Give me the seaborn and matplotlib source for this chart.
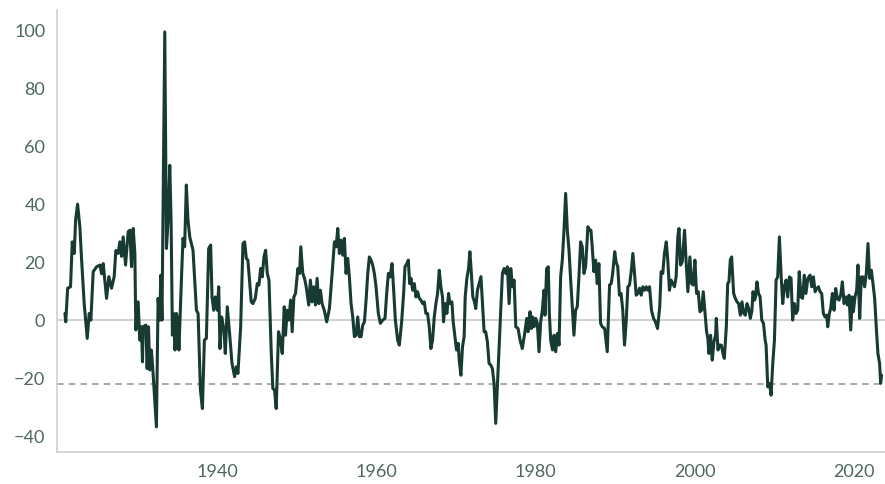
import numpy as np
import pandas as pd
import matplotlib
matplotlib.use("Agg")
import matplotlib.pyplot as plt
import seaborn as sns

# Giá trị (năm thập phân, giá trị)
years = [
    1920.80, 1920.90, 1921.14, 1921.50, 1921.72, 1921.97, 1922.14, 1922.39, 1922.68, 1922.89,
    1923.22, 1923.60, 1923.85, 1924.06, 1924.35, 1924.78, 1925.19, 1925.41, 1925.61, 1926.03,
    1926.32, 1926.66, 1926.99, 1927.20, 1927.49, 1927.70, 1927.92, 1928.12, 1928.42, 1928.75,
    1928.96, 1929.17, 1929.38, 1929.59, 1929.71, 1930.00, 1930.21, 1930.42, 1930.55, 1930.63,
    1930.97, 1931.13, 1931.30, 1931.47, 1931.67, 1931.88, 1932.30, 1932.51, 1932.72, 1932.85,
    1933.00, 1933.35, 1933.56, 1933.77, 1933.98, 1934.15, 1934.31, 1934.47, 1934.64, 1934.80,
    1935.00, 1935.13, 1935.44, 1935.64, 1935.85, 1936.06, 1936.27, 1936.49, 1936.90, 1937.33,
    1937.54, 1937.83, 1938.08, 1938.33, 1938.58, 1938.87, 1939.12, 1939.29, 1939.50, 1939.70,
    1939.96, 1940.13, 1940.29, 1940.50, 1940.79, 1940.96, 1941.21, 1941.50, 1941.80, 1942.13,
    1942.34, 1942.55, 1942.89, 1943.18, 1943.39, 1943.60, 1943.80, 1944.22, 1944.43, 1944.73,
    1944.98, 1945.19, 1945.40, 1945.61, 1945.82, 1946.03, 1946.24, 1946.45, 1946.74, 1946.94,
    1947.15, 1947.36, 1947.65, 1947.86, 1948.12, 1948.37, 1948.53, 1948.74, 1948.95, 1949.17,
    1949.37, 1949.58, 1949.79, 1950.08, 1950.29, 1950.45, 1950.70, 1950.92, 1951.13, 1951.45,
    1951.66, 1951.87, 1952.08, 1952.30, 1952.50, 1952.71, 1952.92, 1953.13, 1953.40, 1953.71,
    1954.05, 1954.39, 1954.68, 1954.89, 1955.10, 1955.30, 1955.51, 1955.72, 1955.93, 1956.14,
    1956.35, 1956.56, 1956.77, 1956.98, 1957.19, 1957.40, 1957.61, 1957.82, 1958.03, 1958.24,
    1958.45, 1958.66, 1958.87, 1959.07, 1959.28, 1959.49, 1959.70, 1959.91, 1960.20, 1960.45,
    1960.74, 1961.04, 1961.25, 1961.46, 1961.67, 1961.92, 1962.13, 1962.34, 1962.63, 1962.84,
    1963.13, 1963.38, 1963.55, 1963.80, 1963.97, 1964.14, 1964.31, 1964.51, 1964.72, 1964.93,
    1965.14, 1965.35, 1965.56, 1965.77, 1965.97, 1966.18, 1966.39, 1966.60, 1966.81, 1967.02,
    1967.23, 1967.44, 1967.65, 1967.86, 1968.06, 1968.27, 1968.40, 1968.61, 1968.82, 1969.03,
    1969.20, 1969.45, 1969.61, 1969.86, 1970.03, 1970.24, 1970.37, 1970.58, 1970.78, 1970.99,
    1971.12, 1971.33, 1971.54, 1971.71, 1971.87, 1972.08, 1972.29, 1972.45, 1972.66, 1972.87,
    1973.10, 1973.29, 1973.50, 1973.70, 1973.91, 1974.12, 1974.33, 1974.54, 1974.75, 1974.96,
    1975.16, 1975.38, 1975.59, 1975.80, 1976.01, 1976.22, 1976.43, 1976.64, 1976.85, 1977.06,
    1977.27, 1977.48, 1977.77, 1978.02, 1978.30, 1978.60, 1978.86, 1979.02, 1979.27, 1979.44,
    1979.60, 1979.77, 1979.98, 1980.19, 1980.40, 1980.61, 1980.82, 1981.03, 1981.15, 1981.36,
    1981.57, 1981.70, 1981.87, 1982.10, 1982.29, 1982.50, 1982.71, 1982.92, 1983.12, 1983.33,
    1983.54, 1983.75, 1983.96, 1984.17, 1984.38, 1984.60, 1984.79, 1985.00, 1985.21, 1985.42,
    1985.63, 1985.84, 1986.05, 1986.26, 1986.55, 1986.76, 1986.93, 1987.09, 1987.30, 1987.52,
    1987.72, 1987.93, 1988.14, 1988.35, 1988.65, 1988.98, 1989.27, 1989.48, 1989.66, 1989.92,
    1990.09, 1990.30, 1990.51, 1990.72, 1990.93, 1991.15, 1991.36, 1991.57, 1991.78, 1991.99,
    1992.20, 1992.41, 1992.62, 1992.83, 1993.04, 1993.25, 1993.46, 1993.67, 1993.88, 1994.09,
    1994.30, 1994.54, 1994.80, 1995.04, 1995.30, 1995.58, 1995.75, 1995.96, 1996.17, 1996.40,
    1996.59, 1996.80, 1997.01, 1997.22, 1997.43, 1997.64, 1997.85, 1998.00, 1998.20, 1998.41,
    1998.70, 1998.91, 1999.12, 1999.37, 1999.58, 1999.79, 2000.00, 2000.21, 2000.42, 2000.63,
    2000.84, 2001.05, 2001.26, 2001.47, 2001.63, 2001.76, 2001.97, 2002.18, 2002.39, 2002.60,
    2002.69, 2002.90, 2003.11, 2003.32, 2003.53, 2003.70, 2003.95, 2004.12, 2004.28, 2004.45,
    2004.62, 2004.87, 2005.08, 2005.29, 2005.50, 2005.71, 2005.92, 2006.13, 2006.34, 2006.55,
    2006.76, 2006.97, 2007.17, 2007.30, 2007.50, 2007.62, 2007.80, 2008.00, 2008.20, 2008.41,
    2008.62, 2008.83, 2008.95, 2009.16, 2009.37, 2009.58, 2009.79, 2010.00, 2010.21, 2010.41,
    2010.62, 2010.83, 2011.04, 2011.25, 2011.46, 2011.67, 2011.88, 2012.09, 2012.29, 2012.50,
    2012.71, 2012.92, 2013.12, 2013.33, 2013.54, 2013.75, 2013.96, 2014.20, 2014.48, 2014.69,
    2014.90, 2015.11, 2015.32, 2015.53, 2015.73, 2015.94, 2016.15, 2016.36, 2016.57, 2016.70,
    2016.90, 2017.07, 2017.28, 2017.49, 2017.70, 2017.91, 2018.12, 2018.33, 2018.54, 2018.75,
    2018.96, 2019.17, 2019.38, 2019.59, 2019.80, 2019.92, 2020.13, 2020.34, 2020.50, 2020.72,
    2020.92, 2021.13, 2021.34, 2021.55, 2021.76, 2021.97, 2022.18, 2022.39, 2022.60, 2022.80,
    2023.01, 2023.22, 2023.35, 2023.47,
]
values = [
    2.3, -0.6, 11, 11.5, 27, 23, 34.5, 40, 32, 21,
    5.7, -6.3, 2.3, 0, 16.7, 18.4, 19, 16, 19.5, 7.5,
    15, 11, 15, 24, 23, 27, 22, 28.7, 19, 30.5,
    31, 18.4, 31.6, 23, -3.4, 6.3, -6.9, -2.3, -14.4, -2.3,
    -1.7, -16.7, -2.3, -17.2, -10.3, -18.4, -36.8, 7.5, 0, 15.5,
    0, 99.4, 24.7, 34.5, 53.4, 33.3, -5.2, 2.3, -10.3, 2.3,
    0, -10.3, 13.8, 28.2, 25.3, 46.6, 34.5, 28.7, 24.1, 3.4,
    2.3, -24.1, -30.5, -6.9, -6.3, 24.7, 25.9, 8, 3.4, 8,
    3.4, 11.5, -9.8, 1.1, -3.4, -11.5, 4.6, -4.6, -14.9, -19.5,
    -16.1, -18.4, -2.3, 26.4, 27, 21.3, 20.7, 6.3, 5.7, 7.5,
    12.6, 12.1, 17.8, 14.9, 21.8, 24.1, 16.1, 13.8, -11.5, -23.6,
    -24.1, -30.5, -4, -6.3, -11.5, 4.6, -5.2, 3.4, 0, 6.9,
    -4, 8, 9.2, 17.8, 16.1, 25.3, 16.1, 14.4, 11.5, 5.2,
    13.8, 6.3, 11.5, 5.2, 14.4, 5.7, 10.3, 5.7, 3.4, -0.6,
    4, 16.1, 27, 25.3, 31.6, 23, 27.6, 22.4, 28.2, 16.1,
    21.3, 14.9, 5.7, 1.1, -5.7, -5.2, 1.1, -5.7, -5.7, -1.7,
    -0.6, 6.9, 16.1, 21.8, 20.7, 19, 16.1, 11.5, 2.3, -1.1,
    0, 0.6, 9.2, 16.1, 14.9, 19.5, 10.3, 0, -6.9, -8.6,
    -0.6, 9.2, 18.4, 19.5, 20.7, 12.6, 14.4, 10.3, 12.6, 8,
    9.8, 7.5, 6.9, 5.7, 6.3, 2.3, 2.3, -2.3, -9.8, -6.9,
    1.1, 5.7, 9.2, 17.2, 11.5, 8, -0.6, 5.7, 2.3, 9.2,
    5.7, 6.3, -0.6, -6.3, -10.3, -8, -13.8, -19, -9.2, -5.7,
    8, 14.4, 17.8, 23.6, 17.2, 8, 6.3, 4, 10.3, 12.6,
    15, 5.7, -4, -4, -7.5, -14.9, -15.5, -16.7, -21.8, -35.6,
    -23, -9.2, 3.4, 16.1, 17.8, 16.1, 18.4, 5.7, 17.8, 11.5,
    13.8, -2.3, -2.9, -6.9, -9.8, -4.6, 0.6, -4, 2.9, -2.9,
    1.1, -2.3, 0.6, -1.1, -10.9, -0.6, 3.4, 10.3, 1.7, 17.8,
    18.4, 2.3, -6.9, -10.3, -5.2, -10.9, -4.6, -8.6, 14.9, 20.7,
    31, 43.7, 31, 24.1, 13.8, 4, -5.2, 3.4, 4.6, 14.9,
    27, 25.3, 16.1, 18.4, 32.2, 31, 31, 25.3, 16.7, 20.7,
    12.6, 19.5, -1.1, -2.3, -2.9, -10.9, 12.1, 12.6, 16.1, 23.6,
    20.1, 18.4, 8.6, 9.2, 3.4, -8.6, -0.6, 11.5, 12.1, 16.7,
    23, 16.1, 8.6, 9.2, 11, 8.6, 11.5, 10.3, 11.5, 10.3,
    11.5, 3.4, 0.6, -0.6, -2.9, 4.6, 16.7, 16.1, 23, 27,
    20.7, 10.3, 13.8, 12.6, 11.5, 14.9, 28.7, 31.6, 19, 20.1,
    31, 19.5, 9.8, 21.8, 12.6, 12.1, 20.7, 9.2, 9.8, 2.9,
    3.4, 9.8, 2.9, -4, -6.3, -11.5, -5.2, -13.8, -7.5, -5.2,
    0.6, -10.3, -8.6, -8.6, -11.5, -13.2, -2.3, 12.6, 13.2, 20.7,
    21.8, 9.2, 7.5, 6.3, 5.7, 1.7, 6.3, 2.3, 1.7, 5.7,
    4, 0.6, 3.4, 9.8, 6.9, 8, 13.2, 9.2, 8, 0,
    -1.1, -6.9, -8.6, -23, -21.8, -25.9, -14.9, -6.9, 13.8, 14.9,
    28.7, 16.1, 5.7, 11.5, 13.8, 8, 14.9, 14.4, 0, 5.7,
    2.3, 3.4, 16.7, 8, 7.5, 15.5, 9.2, 14.4, 15.5, 11.5,
    14.9, 9.8, 10.9, 11.5, 9.8, 9.2, 2.3, 1.1, 1.7, -2.3,
    2.3, 4, 9.2, 3.4, 10.9, 7.5, 6.9, 8.6, 13.2, 5.7,
    8, 5.2, 8.6, -3.4, 8, 2.9, 8, 10.3, 19, 0.6,
    14.9, 14.9, 11.5, 16.1, 26.4, 14.4, 17.2, 12.6, 7.5, -2.3,
    -11.5, -14.9, -21.8, -19,
]
ref_level = -22.2
y_ticks = [-40, -20, 0, 20, 40, 60, 80, 100]
x_ticks = [1940, 1960, 1980, 2000, 2020]

df = pd.DataFrame({"year": years, "value": values})

sns.set_style("white")
plt.rcParams["font.family"] = ["Lato", "DejaVu Sans"]

fig = plt.figure(figsize=(8.85, 4.84), dpi=100)
ax = fig.add_axes([0.0644, 0.066, 0.9356, 0.913])

ax.axhline(0, color="#c8c8c8", linewidth=1.2, zorder=1)
ax.axhline(ref_level, color="#9a9a9a", linewidth=1.2, linestyle=(0, (4, 3)), zorder=1)

sns.lineplot(data=df, x="year", y="value", color="#173a33", linewidth=2.2,
             ax=ax, zorder=3, sort=False)

ax.set_xlim(1919.8, 2023.9)
ax.set_ylim(-45.5, 106.9)
ax.set_yticks(y_ticks)
ax.set_xticks(x_ticks)
ax.set_xlabel("")
ax.set_ylabel("")

for side in ["top", "right"]:
    ax.spines[side].set_visible(False)
for side in ["left", "bottom"]:
    ax.spines[side].set_color("#d0d0d0")
    ax.spines[side].set_linewidth(1.2)

ax.tick_params(axis="both", color="#d0d0d0", length=5, width=1, direction="out")
ax.tick_params(axis="both", labelcolor="#4f6662", labelsize=13)
for lab in ax.get_xticklabels() + ax.get_yticklabels():
    lab.set_fontweight("normal")
    lab.set_color("#4f6662")

plt.savefig("out.png", dpi=100)
